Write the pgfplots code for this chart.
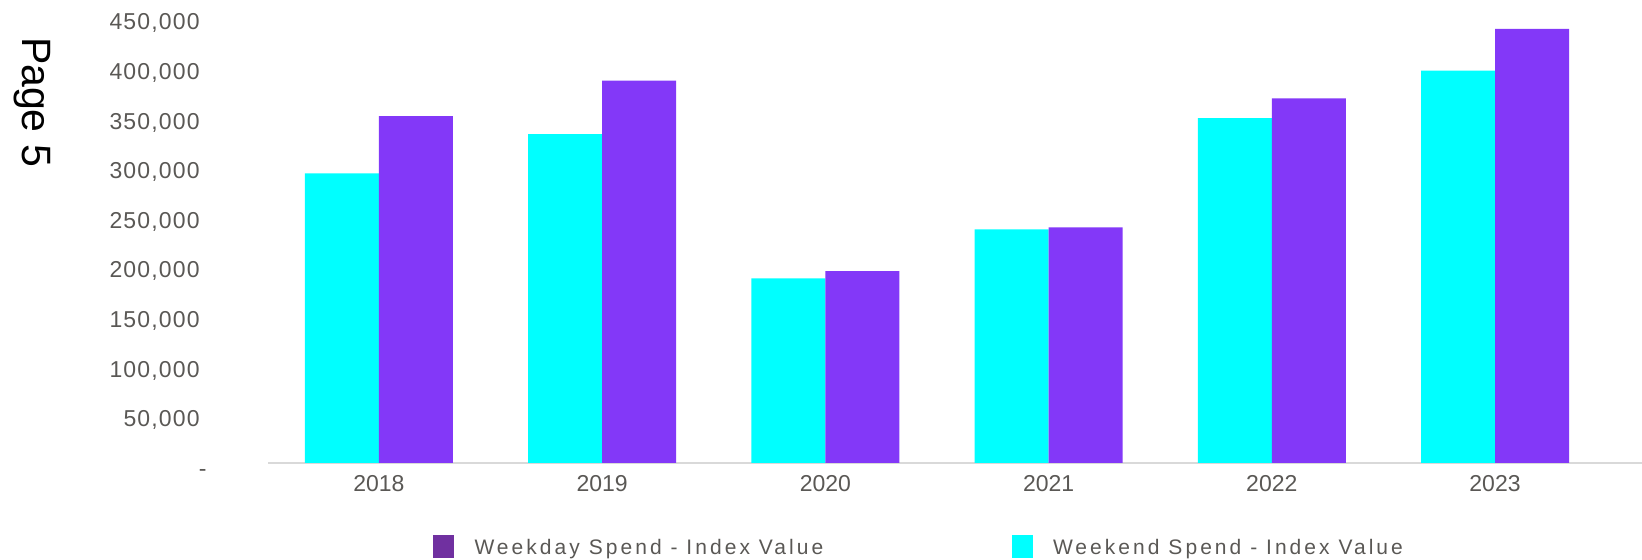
\documentclass[border=0pt]{standalone}
\usepackage{pgfplots}
\pgfplotsset{compat=1.18}
\usepackage{pgfplotstable}
\usepackage{fontspec}
\setmainfont{Liberation Sans}
\newfontfamily\ylabfont[LetterSpace=5]{Liberation Sans}
\newfontfamily\legfont[LetterSpace=14.5]{Liberation Sans}
\definecolor{cyanbar}{HTML}{00FFFF}
\definecolor{purplebar}{HTML}{8338F8}
\definecolor{legpurple}{HTML}{7030A0}
\definecolor{labgray}{HTML}{5A5855}
\definecolor{axgray}{HTML}{D9D9D9}

\pgfplotstableread{
x weekend weekday
0 292000 349500
1 331500 385500
2 186000 193500
3 235500 237500
4 347500 367500
5 395500 437500
}\spend

\begin{document}
\begin{tikzpicture}
\useasboundingbox (0,0) rectangle (821pt,280pt);
\begin{axis}[
  at={(134pt,48.5pt)}, anchor=south west,
  scale only axis, width=687pt, height=228.2pt,
  xmin=-0.497, xmax=5.6586, ymin=0, ymax=460000,
  axis x line*=bottom, axis y line*=left,
  x axis line style={draw=axgray, line width=1pt, -},
  y axis line style={draw=none, -},
  tick style={draw=none},
  scaled y ticks=false,
  xtick={0,1,2,3,4,5},
  xticklabels={2018,2019,2020,2021,2022,2023},
  ytick={0,50000,100000,150000,200000,250000,300000,350000,400000,450000},
  yticklabels={{-\kern-4pt},{50,000},{100,000},{150,000},{200,000},{250,000},{300,000},{350,000},{400,000},{450,000}},
  xticklabel style={font=\fontsize{11.5pt}{13pt}\selectfont, text=labgray, anchor=center, inner sep=0pt, yshift=-10.5pt},
  yticklabel style={font=\ylabfont\fontsize{11.5pt}{13pt}\selectfont, text=labgray, anchor=base east, inner sep=0pt, xshift=-34pt, yshift=-6.7pt},
  legend columns=2,
  legend cell align=left,
  legend style={draw=none, fill=none, inner sep=0pt, outer sep=0pt,
    at={(axis description cs:0.1201,-0.1830)}, anchor=west,
    font=\legfont\fontsize{10.5pt}{12pt}\selectfont, text=labgray,
    nodes={inner sep=0pt},
    /tikz/every odd column/.append style={column sep=10.35pt},
    /tikz/every even column/.append style={column sep=0pt}},
]
\addplot[ybar, bar width=37pt, bar shift=-18.5pt, fill=cyanbar, draw=none, forget plot] table[x=x,y=weekend]{\spend};
\addplot[ybar, bar width=37pt, bar shift=18.5pt, fill=purplebar, draw=none, forget plot] table[x=x,y=weekday]{\spend};
\addlegendimage{legend image code/.code={\fill[legpurple] (0pt,-4.5pt) rectangle (10pt,6.5pt);}}
\addlegendentry{\makebox[268.5pt][l]{Weekday Spend - Index Value}}
\addlegendimage{legend image code/.code={\fill[cyanbar] (0pt,-4.5pt) rectangle (10pt,6.5pt);}}
\addlegendentry{Weekend Spend - Index Value}
\end{axis}
\node[rotate=-90, inner sep=0pt, font=\fontsize{20.5pt}{24pt}\selectfont] at (16pt,229pt) {Page 5};
\end{tikzpicture}
\end{document}
